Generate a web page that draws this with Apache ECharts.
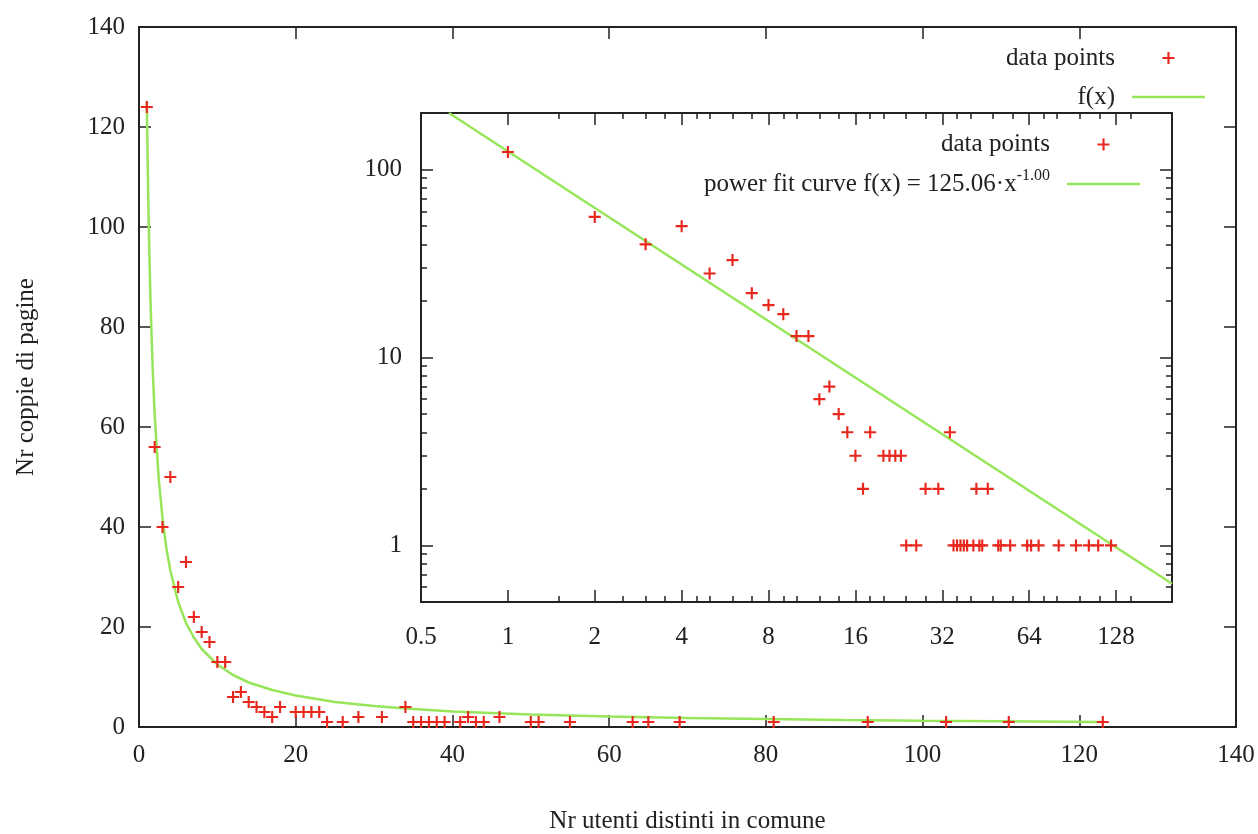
<!DOCTYPE html>
<html>
<head>
<meta charset="utf-8">
<script src="https://cdn.jsdelivr.net/npm/echarts@6/dist/echarts.min.js"></script>
<style>
  html, body { margin: 0; padding: 0; background: #fff; }
  #chart { width: 1258px; height: 834px; }
</style>
</head>
<body>
<div id="chart"></div>
<script>
// ---- data ----
const pointX = [1,2,3,4,5,6,7,8,9,10,11,12,13,14,15,16,17,18,20,21,22,23,24,26,28,31,34,35,36,37,38,39,41,42,43,44,46,50,51,55,63,65,69,81,93,103,111,123];
const pointY = [124,56,40,50,28,33,22,19,17,13,13,6,7,5,4,3,2,4,3,3,3,3,1,1,2,2,4,1,1,1,1,1,1,2,1,1,2,1,1,1,1,1,1,1,1,1,1,1];

// fitted curve f(x) = 125.06 * x^-1.00
const fitX = [1,1.1,1.2,1.35,1.5,1.75,2,2.5,3,3.5,4,5,6,7,8,10,12,14,17,20,25,30,35,40,50,60,70,80,90,100,110,123];
const fitY = [125,113.7,104.2,92.6,83.4,71.5,62.5,50,41.7,35.7,31.3,25,20.8,17.9,15.6,12.5,10.4,8.9,7.4,6.3,5.0,4.2,3.6,3.1,2.5,2.1,1.8,1.6,1.4,1.25,1.14,1.02];

// fitted line in the log-log inset (endpoints at the frame)
const insetFitX = [0.625, 200];
const insetFitY = [200, 0.625];

// axes / tick labels
const mainXTicks = [0, 140, 20];
const mainYTicks = [0, 140, 20];
const insetXRange = [0.5, 200];
const insetYRange = [0.5, 200];
const insetXMajor = [0.5, 1, 2, 4, 8, 16, 32, 64, 128];
const insetXMinor = [1.5, 2.5, 3, 3.5, 4.5, 5, 6, 7, 9, 10, 12, 14, 18, 20, 24, 28, 36, 40, 48, 56, 72, 80, 96, 112, 144];
const insetYMajor = [1, 10, 100];
const insetYMinor = [0.6, 0.7, 0.8, 0.9, 2, 3, 4, 5, 6, 7, 8, 9, 20, 30, 40, 50, 60, 70, 80, 90];

const seriesNames = ['data points', 'f(x)', 'power fit curve'];
const fitLegendText = '{a|power fit curve f(x) = 125.06·x}{s|-1.00}';
const xTitle = 'Nr utenti distinti in comune';
const yTitle = 'Nr coppie di pagine';

// ---- styling ----
const FONT = 'Liberation Serif';
const INK = '#222';
const RED = '#e8281e';
const GREEN = '#97e65a';
const PLUS = 'path://M4.1,0H5.9V4.1H10V5.9H5.9V10H4.1V5.9H0V4.1H4.1Z';
const BAR = 'path://M0,0H73V2.5H0Z';

const labelStyle = { fontFamily: FONT, fontSize: 25, color: INK };
const tickLine = { color: INK, width: 1.5 };

function baseAxis(extra) {
  return Object.assign({
    splitLine: { show: false },
    axisLine: { show: true, onZero: false, lineStyle: { color: INK, width: 2 } },
    axisTick: { show: true, inside: true, length: 12, lineStyle: tickLine },
    axisLabel: Object.assign({}, labelStyle)
  }, extra);
}
function minorAxis(extra) {
  return Object.assign({
    splitLine: { show: false },
    axisLine: { show: false },
    axisLabel: { show: false },
    axisTick: { show: true, inside: true, length: 6, lineStyle: tickLine }
  }, extra);
}

const chart = echarts.init(document.getElementById('chart'), null, { renderer: 'canvas' });

const logFmt = v => String(+(+v).toPrecision(4));

const gridOpts = { outerBoundsMode: 'none', containLabel: false };

const option = {
  backgroundColor: '#fff',
  animation: false,
  grid: [
    Object.assign({ left: 139, top: 27, width: 1097, height: 700 }, gridOpts),
    Object.assign({ left: 421, top: 113, width: 751, height: 489 }, gridOpts)
  ],
  xAxis: [
    baseAxis({ gridIndex: 0, type: 'value', position: 'bottom', min: mainXTicks[0], max: mainXTicks[1], interval: mainXTicks[2],
      axisLabel: Object.assign({}, labelStyle, { margin: 16 }),
      name: xTitle, nameLocation: 'middle', nameGap: 82, nameTextStyle: Object.assign({}, labelStyle) }),
    baseAxis({ gridIndex: 0, type: 'value', position: 'top', min: mainXTicks[0], max: mainXTicks[1], interval: mainXTicks[2],
      axisLabel: { show: false } }),
    baseAxis({ gridIndex: 1, type: 'log', logBase: 2, position: 'bottom', min: insetXRange[0], max: insetXRange[1],
      axisTick: { show: true, inside: true, length: 12, lineStyle: tickLine, customValues: insetXMajor },
      axisLabel: Object.assign({}, labelStyle, { margin: 23, formatter: logFmt, customValues: insetXMajor }) }),
    baseAxis({ gridIndex: 1, type: 'log', logBase: 2, position: 'top', min: insetXRange[0], max: insetXRange[1],
      axisTick: { show: true, inside: true, length: 12, lineStyle: tickLine, customValues: insetXMajor },
      axisLabel: { show: false } }),
    minorAxis({ gridIndex: 1, type: 'log', logBase: 2, position: 'bottom', min: insetXRange[0], max: insetXRange[1],
      axisTick: { show: true, inside: true, length: 6, lineStyle: tickLine, customValues: insetXMinor } }),
    minorAxis({ gridIndex: 1, type: 'log', logBase: 2, position: 'top', min: insetXRange[0], max: insetXRange[1],
      axisTick: { show: true, inside: true, length: 6, lineStyle: tickLine, customValues: insetXMinor } })
  ],
  yAxis: [
    baseAxis({ gridIndex: 0, type: 'value', position: 'left', min: mainYTicks[0], max: mainYTicks[1], interval: mainYTicks[2],
      axisLabel: Object.assign({}, labelStyle, { margin: 14 }),
      name: yTitle, nameLocation: 'middle', nameGap: 100, nameRotate: 90, nameTextStyle: Object.assign({}, labelStyle) }),
    baseAxis({ gridIndex: 0, type: 'value', position: 'right', min: mainYTicks[0], max: mainYTicks[1], interval: mainYTicks[2],
      axisLabel: { show: false } }),
    baseAxis({ gridIndex: 1, type: 'log', logBase: 10, position: 'left', min: insetYRange[0], max: insetYRange[1],
      axisTick: { show: true, inside: true, length: 12, lineStyle: tickLine, customValues: insetYMajor },
      axisLabel: Object.assign({}, labelStyle, { margin: 19, formatter: logFmt, customValues: insetYMajor }) }),
    baseAxis({ gridIndex: 1, type: 'log', logBase: 10, position: 'right', min: insetYRange[0], max: insetYRange[1],
      axisTick: { show: true, inside: true, length: 12, lineStyle: tickLine, customValues: insetYMajor },
      axisLabel: { show: false } }),
    minorAxis({ gridIndex: 1, type: 'log', logBase: 10, position: 'left', min: insetYRange[0], max: insetYRange[1],
      axisTick: { show: true, inside: true, length: 6, lineStyle: tickLine, customValues: insetYMinor } }),
    minorAxis({ gridIndex: 1, type: 'log', logBase: 10, position: 'right', min: insetYRange[0], max: insetYRange[1],
      axisTick: { show: true, inside: true, length: 6, lineStyle: tickLine, customValues: insetYMinor } })
  ],
  legend: [
    { data: [seriesNames[0]], right: 83.5, top: 45.5, padding: 0, align: 'right', orient: 'vertical',
      itemWidth: 73, itemHeight: 12, textStyle: Object.assign({}, labelStyle, { lineHeight: 25, padding: [0, 12, 0, 0] }) },
    { data: [{ name: seriesNames[1], icon: BAR }], right: 53, top: 84.5, padding: 0, align: 'right', orient: 'vertical',
      itemWidth: 73, itemHeight: 12, textStyle: Object.assign({}, labelStyle, { lineHeight: 25, padding: [0, 12, 0, 0] }) },
    { data: [seriesNames[0]], right: 148.5, top: 132, padding: 0, align: 'right', orient: 'vertical',
      itemWidth: 73, itemHeight: 12, textStyle: Object.assign({}, labelStyle, { lineHeight: 25, padding: [0, 12, 0, 0] }) },
    { data: [{ name: seriesNames[2], icon: BAR }], right: 118, top: 168, padding: 0, align: 'right', orient: 'vertical',
      itemWidth: 73, itemHeight: 12,
      formatter: () => fitLegendText,
      textStyle: Object.assign({}, labelStyle, {
        padding: [0, 12, 0, 0],
        rich: {
          a: { fontFamily: FONT, fontSize: 25, color: INK, lineHeight: 25 },
          s: { fontFamily: FONT, fontSize: 16, color: INK, padding: [0, 0, 16, 0] }
        }
      }) }
  ],
  series: [
    { name: seriesNames[0], type: 'scatter', xAxisIndex: 0, yAxisIndex: 0, symbol: PLUS, symbolSize: 12,
      itemStyle: { color: RED, opacity: 1 }, data: pointX.map((x, i) => [x, pointY[i]]), z: 3 },
    { name: seriesNames[1], type: 'line', xAxisIndex: 0, yAxisIndex: 0, symbol: 'none', showSymbol: false,
      lineStyle: { color: GREEN, width: 2.5 }, itemStyle: { color: GREEN },
      data: fitX.map((x, i) => [x, fitY[i]]), z: 2 },
    { name: seriesNames[0], type: 'scatter', xAxisIndex: 2, yAxisIndex: 2, symbol: PLUS, symbolSize: 12,
      itemStyle: { color: RED, opacity: 1 }, data: pointX.map((x, i) => [x, pointY[i]]), z: 3 },
    { name: seriesNames[2], type: 'line', xAxisIndex: 2, yAxisIndex: 2, symbol: 'none', showSymbol: false,
      lineStyle: { color: GREEN, width: 2.5 }, itemStyle: { color: GREEN },
      data: insetFitX.map((x, i) => [x, insetFitY[i]]), z: 2 }
  ]
};

chart.setOption(option);
</script>
</body>
</html>
